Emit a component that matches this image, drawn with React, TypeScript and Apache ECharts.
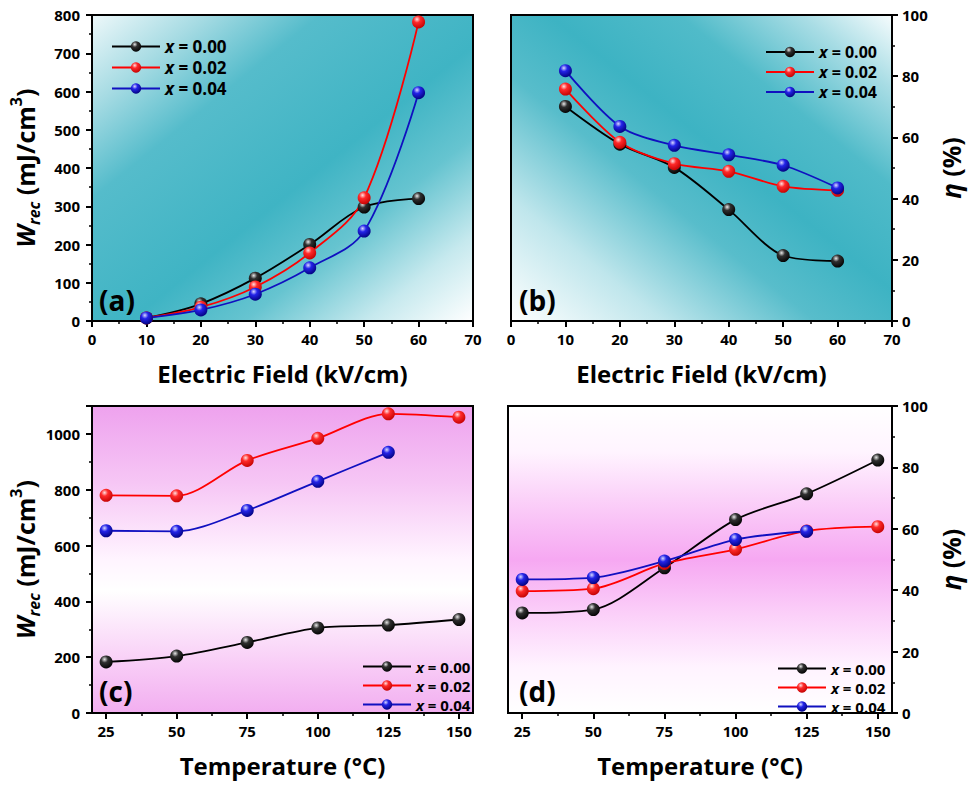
import React, { useEffect, useRef } from "react";
import * as echarts from "echarts";

const FONT = '"Open Sans", "DejaVu Sans", sans-serif';

const seriesNames = ["x = 0.00", "x = 0.02", "x = 0.04"];
const fieldValues = [10, 20, 30, 40, 50, 60];
const tempValues = [25, 50, 75, 100, 125, 150];
const tempTickValues = [25, 50, 75, 100, 125, 150];
const tempMinorTickValues = [37.5, 62.5, 87.5, 112.5, 137.5];

const wrecField000 = [8, 45, 112, 200, 298, 320];
const wrecField002 = [8, 36, 89, 178, 322, 782];
const wrecField004 = [8, 29, 70, 139, 235, 597];

const etaField000 = [70.1, 57.8, 50.2, 36.4, 21.4, 19.6];
const etaField002 = [75.8, 58.4, 51.4, 48.9, 44.0, 42.7];
const etaField004 = [81.8, 63.6, 57.4, 54.3, 50.9, 43.5];

const wrecTemp000 = [183, 204, 253, 305, 315, 335];
const wrecTemp002 = [780, 778, 905, 984, 1072, 1060];
const wrecTemp004 = [653, 651, 726, 830, 934];

const etaTemp000 = [32.6, 33.7, 47.3, 63.0, 71.4, 82.4];
const etaTemp002 = [39.7, 40.5, 48.7, 53.3, 59.3, 60.7];
const etaTemp004 = [43.5, 44.1, 49.5, 56.5, 59.2];

const lineColors = ["#000000", "#ff0000", "#1010c0"];
const ballColors = [
  ["#e8e8e8", "#303030", "#000000"],
  ["#ffe0e0", "#ff2a2a", "#c00000"],
  ["#d8d8ff", "#2424e8", "#00007a"],
];

const ball = (i: number) =>
  new echarts.graphic.RadialGradient(0.38, 0.3, 0.75, [
    { offset: 0, color: ballColors[i][0] },
    { offset: 0.35, color: ballColors[i][1] },
    { offset: 1, color: ballColors[i][2] },
  ]);

const axisLineStyle = { color: "#000", width: 2 };
const labelStyle = { fontSize: 15, fontWeight: "bold" as const, color: "#000", fontFamily: FONT };
const nameStyleBase = { fontSize: 24, fontWeight: "bold" as const, color: "#000", fontFamily: FONT };

const wrecName = "{w|W}{sub|rec}{n| (mJ/cm}{sup|3}{n|)}";
const etaName = "{e|η}{n| (%)}";
const richName = {
  w: { fontSize: 25, fontWeight: "bold", fontStyle: "italic", fontFamily: FONT, color: "#000", lineHeight: 34, verticalAlign: "middle" },
  sub: { fontSize: 16, fontWeight: "bold", fontStyle: "italic", fontFamily: FONT, color: "#000", lineHeight: 34, verticalAlign: "bottom" },
  sup: { fontSize: 16, fontWeight: "bold", fontFamily: FONT, color: "#000", lineHeight: 34, verticalAlign: "top" },
  n: { fontSize: 25, fontWeight: "bold", fontFamily: FONT, color: "#000", lineHeight: 34, verticalAlign: "middle" },
  e: { fontSize: 26, fontWeight: "bold", fontStyle: "italic", fontFamily: FONT, color: "#000", lineHeight: 34, verticalAlign: "middle" },
};

const grids = [
  { left: 92, top: 15, width: 381, height: 306 },
  { left: 511, top: 15, width: 381, height: 306 },
  { left: 92, top: 406, width: 381, height: 307 },
  { left: 508, top: 406, width: 384, height: 307 },
];

const tealA = new echarts.graphic.LinearGradient(0, 0, 1, 1, [
  { offset: 0, color: "#eef8fa" },
  { offset: 0.15, color: "#a6dbe3" },
  { offset: 0.3, color: "#55bccb" },
  { offset: 0.55, color: "#3fb4c4" },
  { offset: 0.7, color: "#66c4d0" },
  { offset: 0.86, color: "#c6e9ee" },
  { offset: 1, color: "#ffffff" },
]);
const tealB = new echarts.graphic.LinearGradient(0, 1, 1, 0, [
  { offset: 0, color: "#ffffff" },
  { offset: 0.2, color: "#bfe6ec" },
  { offset: 0.4, color: "#58bdcb" },
  { offset: 0.55, color: "#3db3c3" },
  { offset: 0.72, color: "#50bbc9" },
  { offset: 0.88, color: "#a9dde5" },
  { offset: 1, color: "#f6fcfd" },
]);
const pinkC = new echarts.graphic.LinearGradient(0, 0, 0, 1, [
  { offset: 0, color: "#eea2ee" },
  { offset: 0.25, color: "#f6c6f5" },
  { offset: 0.5, color: "#fff4ff" },
  { offset: 0.6, color: "#ffffff" },
  { offset: 0.85, color: "#f8cbf6" },
  { offset: 1, color: "#f2aef0" },
]);
const pinkD = new echarts.graphic.LinearGradient(0, 0, 0, 1, [
  { offset: 0, color: "#ffffff" },
  { offset: 0.15, color: "#fff4ff" },
  { offset: 0.3, color: "#fbd2f9" },
  { offset: 0.5, color: "#f6a8f2" },
  { offset: 0.68, color: "#fbd0f9" },
  { offset: 0.85, color: "#fff3ff" },
  { offset: 1, color: "#ffffff" },
]);
const backgrounds = [tealA, tealB, pinkC, pinkD];

function makeSeries(name: string, k: number, xs: number[], ys: number[], panel: number, smooth: number) {
  return {
    type: "line",
    name,
    xAxisIndex: panel,
    yAxisIndex: panel,
    data: ys.map((y, i) => [xs[i], y]),
    smooth,
    symbol: "circle",
    symbolSize: 13,
    showSymbol: true,
    lineStyle: { color: lineColors[k], width: 1.8 },
    itemStyle: { color: ball(k), borderWidth: 0 },
    z: 3,
  };
}

const plainNumber = (v: number) => String(v);

function xAxisField(grid: number) {
  return {
    gridIndex: grid,
    type: "value",
    min: 0,
    max: 70,
    interval: 10,
    position: "bottom",
    axisLine: { show: true, onZero: false, lineStyle: axisLineStyle },
    axisTick: { show: true, length: 6, lineStyle: axisLineStyle },
    minorTick: { show: true, splitNumber: 2, length: 3, lineStyle: { color: "#000", width: 1.5 } },
    splitLine: { show: false },
    axisLabel: { ...labelStyle, margin: 10, formatter: plainNumber },
    name: "Electric Field (kV/cm)",
    nameLocation: "middle",
    nameGap: 40,
    nameTextStyle: nameStyleBase,
  };
}

function xAxisTemp(grid: number) {
  return {
    gridIndex: grid,
    type: "value",
    min: 20,
    max: 155,
    position: "bottom",
    axisLine: { show: true, onZero: false, lineStyle: axisLineStyle },
    axisTick: { show: true, length: 6, lineStyle: axisLineStyle, customValues: tempTickValues },
    splitLine: { show: false },
    axisLabel: { ...labelStyle, margin: 10, customValues: tempTickValues, formatter: plainNumber },
    name: "Temperature (°C)",
    nameLocation: "middle",
    nameGap: 40,
    nameTextStyle: nameStyleBase,
  };
}

function xAxisTempMinor(grid: number) {
  return {
    gridIndex: grid,
    type: "value",
    min: 20,
    max: 155,
    position: "bottom",
    axisLine: { show: false, onZero: false },
    axisTick: { show: true, length: 3, lineStyle: { color: "#000", width: 1.5 }, customValues: tempMinorTickValues },
    splitLine: { show: false },
    axisLabel: { show: false },
  };
}

function yAxisLeft(grid: number, max: number, interval: number) {
  return {
    gridIndex: grid,
    type: "value",
    min: 0,
    max,
    interval,
    position: "left",
    axisLine: { show: true, onZero: false, lineStyle: axisLineStyle },
    axisTick: { show: true, length: 6, lineStyle: axisLineStyle },
    minorTick: { show: true, splitNumber: 2, length: 3, lineStyle: { color: "#000", width: 1.5 } },
    splitLine: { show: false },
    axisLabel: { ...labelStyle, margin: 12, showMaxLabel: max % interval === 0, formatter: plainNumber },
    name: wrecName,
    nameLocation: "middle",
    nameRotate: 90,
    nameGap: 50,
    nameTextStyle: { ...nameStyleBase, rich: richName },
  };
}

function yAxisRight(grid: number) {
  return {
    gridIndex: grid,
    type: "value",
    min: 0,
    max: 100,
    interval: 20,
    position: "right",
    axisLine: { show: true, onZero: false, lineStyle: axisLineStyle },
    axisTick: { show: true, length: 6, lineStyle: axisLineStyle },
    minorTick: { show: true, splitNumber: 2, length: 3, lineStyle: { color: "#000", width: 1.5 } },
    splitLine: { show: false },
    axisLabel: { ...labelStyle, margin: 10, formatter: plainNumber },
    name: etaName,
    nameLocation: "middle",
    nameRotate: 90,
    nameGap: 42,
    nameTextStyle: { ...nameStyleBase, rich: richName },
  };
}

function legendAt(left: number, top: number, fontSize: number, gap: number) {
  return {
    left,
    top,
    orient: "vertical",
    itemWidth: 48,
    itemHeight: 13,
    itemGap: gap,
    data: seriesNames,
    formatter: (n: string) => "{i|x}{t|" + n.slice(1) + "}",
    textStyle: {
      fontSize,
      lineHeight: fontSize,
      fontWeight: "bold",
      color: "#000",
      fontFamily: FONT,
      rich: {
        i: { fontSize, lineHeight: fontSize, fontWeight: "bold", fontStyle: "italic", color: "#000", fontFamily: FONT },
        t: { fontSize, lineHeight: fontSize, fontWeight: "bold", color: "#000", fontFamily: FONT },
      },
    },
    selectedMode: false,
  };
}

function panelLabel(text: string, x: number, y: number) {
  return {
    type: "text",
    left: x,
    top: y,
    z: 10,
    style: { text, fontSize: 28, fontWeight: "bold", fill: "#000", fontFamily: FONT },
  };
}

export default function App() {
  const ref = useRef<HTMLDivElement>(null);
  useEffect(() => {
    if (!ref.current) return;
    const chart = echarts.init(ref.current, null, { renderer: "svg" });
    const fieldSets = [wrecField000, wrecField002, wrecField004];
    const etaFieldSets = [etaField000, etaField002, etaField004];
    const wrecTempSets = [wrecTemp000, wrecTemp002, wrecTemp004];
    const etaTempSets = [etaTemp000, etaTemp002, etaTemp004];
    const series: any[] = [];
    seriesNames.forEach((n, k) => series.push(makeSeries(n, k, fieldValues, fieldSets[k], 0, 0.35)));
    seriesNames.forEach((n, k) => series.push(makeSeries(n, k, fieldValues, etaFieldSets[k], 1, 0.3)));
    seriesNames.forEach((n, k) => series.push(makeSeries(n, k, tempValues, wrecTempSets[k], 2, 0.3)));
    seriesNames.forEach((n, k) => series.push(makeSeries(n, k, tempValues, etaTempSets[k], 3, 0.3)));

    const option: any = {
      animation: false,
      backgroundColor: "#ffffff",
      grid: grids.map((g, i) => ({
        ...g,
        show: true,
        backgroundColor: backgrounds[i],
        borderColor: "#000",
        borderWidth: 2,
        containLabel: false,
        outerBoundsMode: "none",
      })),
      xAxis: [xAxisField(0), xAxisField(1), xAxisTemp(2), xAxisTemp(3), xAxisTempMinor(2), xAxisTempMinor(3)],
      yAxis: [yAxisLeft(0, 800, 100), yAxisRight(1), yAxisLeft(2, 1100, 200), yAxisRight(3)],
      legend: [
        legendAt(106, 33, 17, 4),
        legendAt(760, 39, 16, 4),
        legendAt(357, 654, 15, 4),
        legendAt(772, 656, 15, 4),
      ],
      graphic: [
        panelLabel("(a)", 99, 286),
        panelLabel("(b)", 519, 286),
        panelLabel("(c)", 99, 677),
        panelLabel("(d)", 519, 677),
      ],
      series,
    };
    chart.setOption(option);
    return () => chart.dispose();
  }, []);
  return (
    <div
      ref={ref}
      style={{ position: "fixed", left: 0, top: 0, width: 969, height: 787, background: "#fff" }}
    />
  );
}
